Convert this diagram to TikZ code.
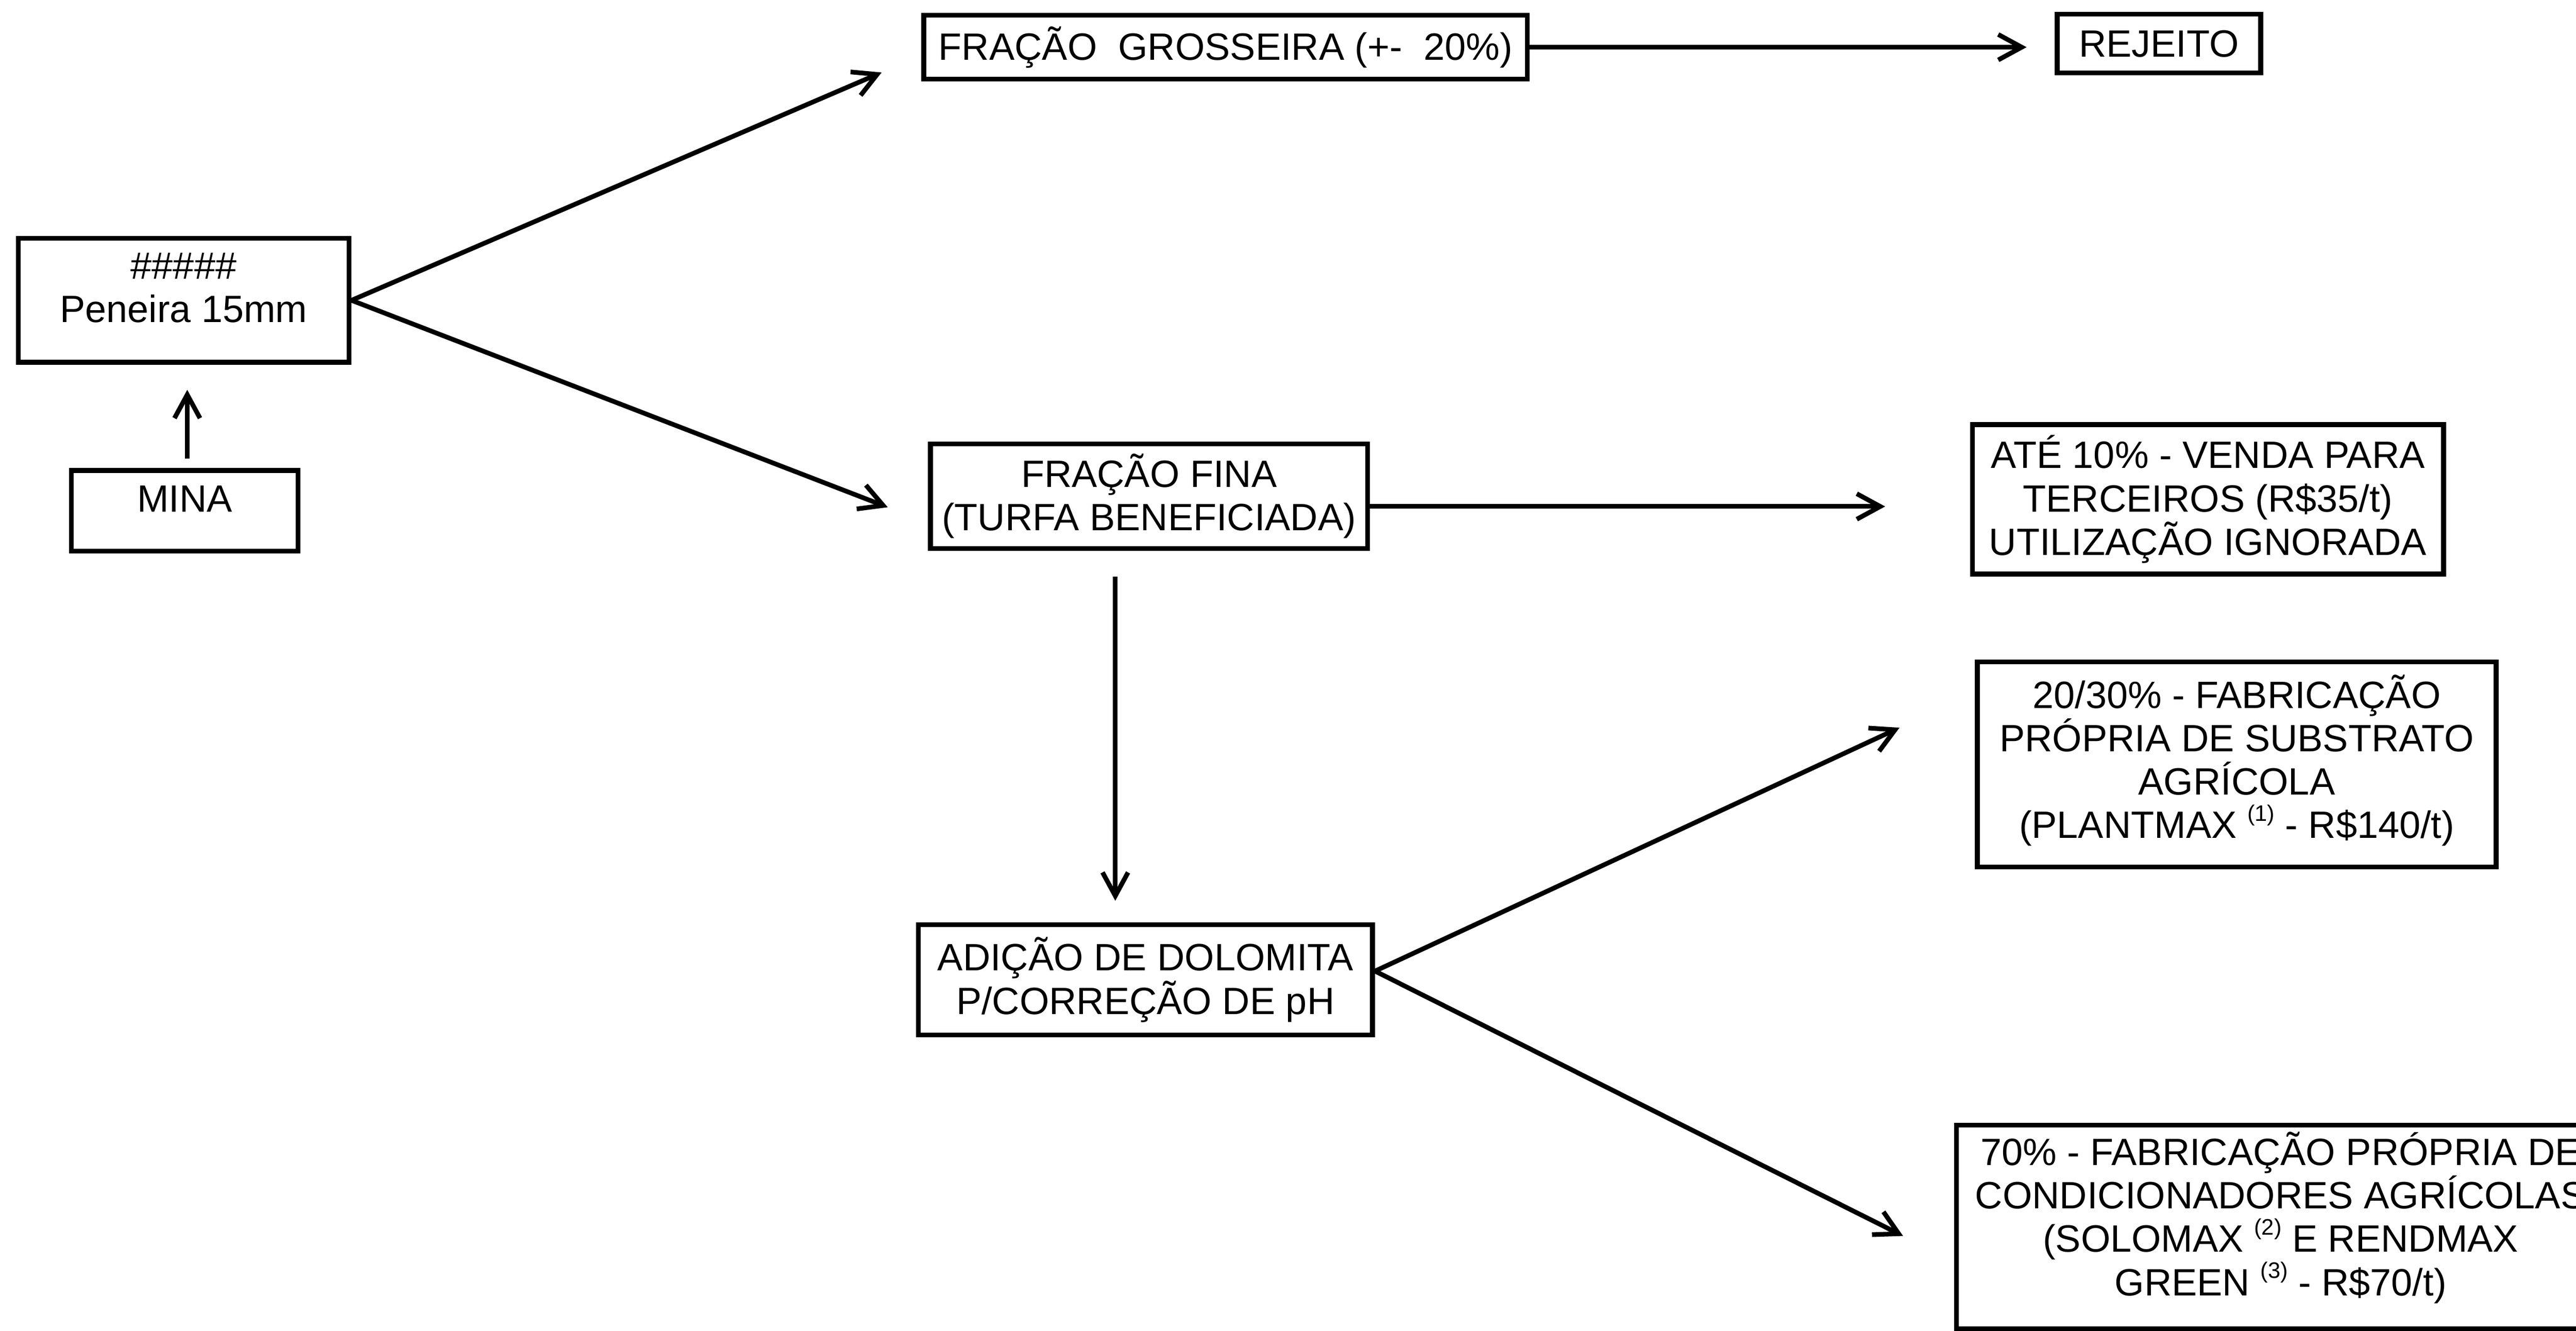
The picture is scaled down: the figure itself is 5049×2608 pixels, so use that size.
\documentclass[tikz,border=0pt]{standalone}
\usepackage{fontspec}
\setmainfont{Liberation Sans}
\usetikzlibrary{arrows.meta}
\newcommand{\supx}[1]{\raisebox{0.34cm}{\fontsize{12.5pt}{12.5pt}\selectfont #1}}
\begin{document}
\begin{tikzpicture}[x=0.01cm,y=-0.01cm,
  box/.style={draw, line width=2.7pt, inner sep=0pt, align=center,
    font=\fontsize{21.2pt}{24.2pt}\selectfont},
  arr/.style={line width=2.6pt, -{Straight Barb[length=0.46cm,width=0.5cm]}}]
\useasboundingbox (0,0) rectangle (5049,2608);
\fill[white] (0,0) rectangle (5049,2608);
\clip (0,0) rectangle (5049,2608);

\node[box, minimum width=6.48cm, minimum height=2.43cm] (pen) at (360,588.5)
  {\#\#\#\#\#\\Peneira 15mm\rule[-0.5cm]{0pt}{0.5cm}};
\node[box, minimum width=4.44cm, minimum height=1.58cm] (mina) at (362,1001)
  {MINA\rule[-0.46cm]{0pt}{0.46cm}};
\node[box, minimum width=11.82cm, minimum height=1.25cm] (fg) at (2402,92.5)
  {FRAÇÃO\ \ GROSSEIRA (+-\ \ 20\%)};
\node[box, minimum width=3.99cm, minimum height=1.15cm] (rej) at (4231.5,85.5)
  {REJEITO};
\node[box, minimum width=8.56cm, minimum height=2.05cm] (ff) at (2252,972.5)
  {FRAÇÃO FINA\\(TURFA BENEFICIADA)};
\node[box, minimum width=9.23cm, minimum height=2.93cm] (ate) at (4327.5,978.5)
  {ATÉ 10\% - VENDA PARA\\TERCEIROS (R\$35/t)\\UTILIZAÇÃO IGNORADA};
\node[box, minimum width=10.16cm, minimum height=4.02cm] (sub) at (4384,1498)
  {20/30\% - FABRICAÇÃO\\PRÓPRIA DE SUBSTRATO\\AGRÍCOLA\\(PLANTMAX \supx{(1)} - R\$140/t)\rule[-0.31cm]{0pt}{0.31cm}};
\node[box, minimum width=8.90cm, minimum height=2.16cm] (ad) at (2245,1920)
  {ADIÇÃO DE DOLOMITA\\P/CORREÇÃO DE pH};
\node[box, minimum width=12.70cm, minimum height=3.99cm] (cond) at (4470,2404.5)
  {70\% - FABRICAÇÃO PRÓPRIA DE\\CONDICIONADORES AGRÍCOLAS\\(SOLOMAX \supx{(2)} E RENDMAX\\GREEN \supx{(3)} - R\$70/t)\rule[-0.52cm]{0pt}{0.52cm}};

\coordinate (t1) at (1728,142);
\coordinate (t2) at (1740,994);
\coordinate (t3) at (3723,1426);
\coordinate (t4) at (3730,2422);

\draw[arr] (pen.east) -- (t1);
\draw[arr] (pen.east) -- (t2);
\draw[arr, shorten <=0.18cm, shorten >=0.49cm] ([xshift=0.05cm]mina.north) -- ([xshift=0.05cm]mina.north |- pen.south);
\draw[arr, shorten >=0.55cm] (fg.east) -- (fg.east -| rej.west);
\draw[arr, shorten >=1.66cm] ([yshift=-0.2cm]ff.east) -- ([yshift=-0.2cm]ff.east -| ate.west);
\draw[arr, shorten <=0.5cm, shorten >=0.42cm] ([xshift=-0.66cm]ff.south) -- ([xshift=-0.66cm]ff.south |- ad.north);
\draw[arr] ([yshift=0.17cm]ad.east) -- (t3);
\draw[arr] ([yshift=0.17cm]ad.east) -- (t4);
\end{tikzpicture}
\end{document}
